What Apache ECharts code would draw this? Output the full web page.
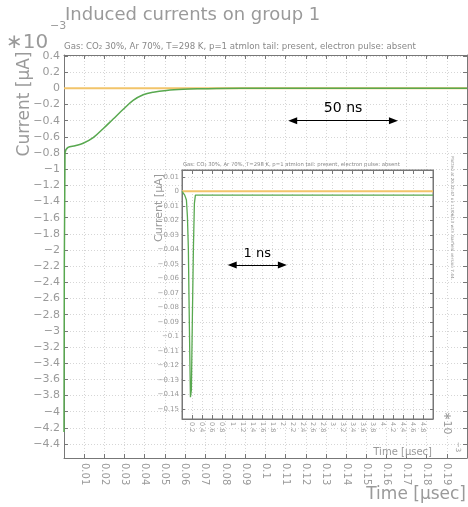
<!DOCTYPE html>
<html>
<head>
<meta charset="utf-8">
<script src="https://cdn.jsdelivr.net/npm/echarts@6/dist/echarts.min.js"></script>
<style>
  html, body { margin: 0; padding: 0; background: #fff; }
  #chart { width: 468px; height: 507px; }
</style>
</head>
<body>
<div id="chart"></div>
<script>
// Full time window: time in µs, current in units of 1e-3 µA
const mainTimes    = [0, 0.0005, 0.002, 0.0055, 0.0095, 0.0145, 0.0194, 0.0244, 0.0294, 0.0343, 0.0393, 0.0443, 0.0509, 0.0592, 0.0680, 0.0757, 0.100, 0.200];
const mainCurrents = [-4.25, -0.80, -0.73, -0.71, -0.68, -0.61, -0.50, -0.38, -0.26, -0.15, -0.080, -0.048, -0.026, -0.012, -0.005, -0.001, 0, 0];
const mainZeroTimes    = [0, 0.2];
const mainZeroCurrents = [0, 0];

// Zoom on the first 5 ns: time in 1e-3 µs, current in µA
const insetTimes    = [0, 0.054, 0.088, 0.108, 0.127, 0.140, 0.154, 0.168, 0.187, 0.207, 0.227, 0.247, 0.267, 5.0];
const insetCurrents = [0, -0.0026, -0.006, -0.0175, -0.040, -0.075, -0.110, -0.142, -0.137, -0.0865, -0.040, -0.0083, -0.0026, -0.0026];
const insetZeroTimes    = [0, 5];
const insetZeroCurrents = [0, 0];

// Tick values
const mainYTicks  = [0.4, 0.2, 0, -0.2, -0.4, -0.6, -0.8, -1, -1.2, -1.4, -1.6, -1.8, -2, -2.2, -2.4, -2.6, -2.8, -3, -3.2, -3.4, -3.6, -3.8, -4, -4.2, -4.4];
const insetYTicks = [0.01, 0, -0.01, -0.02, -0.03, -0.04, -0.05, -0.06, -0.07, -0.08, -0.09, -0.1, -0.11, -0.12, -0.13, -0.14, -0.15];

// Scale bars: [start, end, level] in each panel's data units
const mainScaleBar  = [0.1135, 0.1635, -0.40];
const insetScaleBar = [1, 2, -0.0508];

const FONT = 'DejaVu Sans';
const GREY = '#9a9a9a';
const FRAME = '#777';
const GREEN = '#58a84f';
const YELLOW = '#f2c46a';

const pairs = (xs, ys) => xs.map((x, i) => [x, ys[i]]);
const minus = s => String(s).replace('-', '\u2212');

function scaleBar(bar, text, size) {
  return {
    silent: true,
    symbol: ['triangle', 'triangle'],
    symbolSize: [7, 9],
    lineStyle: { color: '#000', width: 1.2, type: 'solid' },
    label: {
      show: true, formatter: text, position: 'insideMiddleTop', distance: 5,
      color: '#000', fontFamily: FONT, fontSize: size
    },
    emphasis: { disabled: true },
    data: [[{ coord: [bar[0], bar[2]] }, { coord: [bar[1], bar[2]] }]]
  };
}

function frameAxis(extra) {
  return Object.assign({
    type: 'value',
    axisLine: { show: true, onZero: false, lineStyle: { color: FRAME, width: 1 } },
    axisTick: { show: true, inside: true, length: 4, lineStyle: { color: FRAME } },
    axisLabel: { show: false },
    splitLine: { show: false }
  }, extra);
}

const dotted = { show: true, lineStyle: { color: '#d6d6d6', type: [1, 2], width: 1 } };

const chart = echarts.init(document.getElementById('chart'), null, { renderer: 'canvas' });

chart.setOption({
  animation: false,
  backgroundColor: '#fff',
  grid: [
    { left: 64, top: 55, right: 1, bottom: 49, show: false },
    { left: 182, top: 170, right: 35, bottom: 88, show: true, backgroundColor: '#fff', borderColor: FRAME, borderWidth: 1, z: 3 }
  ],
  xAxis: [
    frameAxis({
      gridIndex: 0, position: 'bottom', min: 0, max: 0.2, interval: 0.01,
      axisLabel: {
        show: true, rotate: -90, margin: 5, color: GREY, fontFamily: FONT, fontSize: 10,
        showMinLabel: false, showMaxLabel: false,
        formatter: v => String(Math.round(v * 100) / 100)
      },
      splitLine: dotted
    }),
    frameAxis({ gridIndex: 0, position: 'top', min: 0, max: 0.2, interval: 0.01 }),
    frameAxis({
      gridIndex: 1, position: 'bottom', min: 0, max: 5, interval: 0.2, z: 4,
      axisLabel: {
        show: true, rotate: -90, margin: 3, color: GREY, fontFamily: FONT, fontSize: 6.5,
        showMinLabel: false, showMaxLabel: false,
        formatter: v => String(Math.round(v * 10) / 10)
      },
      splitLine: dotted
    }),
    frameAxis({ gridIndex: 1, position: 'top', min: 0, max: 5, interval: 0.2, z: 4 })
  ],
  yAxis: [
    frameAxis({
      gridIndex: 0, position: 'left', min: -4.573, max: 0.412,
      axisTick: { show: true, inside: true, length: 4, lineStyle: { color: FRAME }, customValues: mainYTicks },
      axisLabel: {
        show: true, margin: 4, color: GREY, fontFamily: FONT, fontSize: 11, customValues: mainYTicks,
        formatter: v => minus(Math.round(v * 10) / 10)
      },
      splitLine: dotted
    }),
    frameAxis({
      gridIndex: 0, position: 'right', min: -4.573, max: 0.412,
      axisTick: { show: true, inside: true, length: 4, lineStyle: { color: FRAME }, customValues: mainYTicks }
    }),
    frameAxis({
      gridIndex: 1, position: 'left', min: -0.157, max: 0.0147, z: 4,
      axisTick: { show: true, inside: true, length: 3, lineStyle: { color: FRAME }, customValues: insetYTicks },
      axisLabel: {
        show: true, margin: 3, color: GREY, fontFamily: FONT, fontSize: 7, customValues: insetYTicks,
        formatter: v => minus(Math.round(v * 100) / 100)
      },
      splitLine: dotted
    }),
    frameAxis({
      gridIndex: 1, position: 'right', min: -0.157, max: 0.0147, z: 4,
      axisTick: { show: true, inside: true, length: 3, lineStyle: { color: FRAME }, customValues: insetYTicks }
    })
  ],
  series: [
    {
      type: 'line', xAxisIndex: 0, yAxisIndex: 0, showSymbol: false, silent: true,
      data: pairs(mainZeroTimes, mainZeroCurrents),
      lineStyle: { color: YELLOW, width: 2 }
    },
    {
      type: 'line', xAxisIndex: 0, yAxisIndex: 0, showSymbol: false, silent: true,
      smooth: 0.35,
      data: pairs(mainTimes, mainCurrents),
      lineStyle: { color: GREEN, width: 1.5 },
      markLine: scaleBar(mainScaleBar, '50 ns', 14)
    },
    {
      type: 'line', xAxisIndex: 2, yAxisIndex: 2, showSymbol: false, silent: true, z: 5,
      data: pairs(insetZeroTimes, insetZeroCurrents),
      lineStyle: { color: YELLOW, width: 2 }
    },
    {
      type: 'line', xAxisIndex: 2, yAxisIndex: 2, showSymbol: false, silent: true, z: 5,
      data: pairs(insetTimes, insetCurrents),
      lineStyle: { color: GREEN, width: 1.3 },
      markLine: scaleBar(insetScaleBar, '1 ns', 13)
    }
  ],
  graphic: [
    { type: 'text', x: 65, y: 6, z: 10, style: { text: 'Induced currents on group 1', fontFamily: FONT, fontSize: 18, fill: GREY } },
    { type: 'text', x: 6, y: 33, z: 10, style: { text: '\u221710', fontFamily: FONT, fontSize: 20, fill: GREY } },
    { type: 'text', x: 50, y: 21, z: 10, style: { text: '\u22123', fontFamily: FONT, fontSize: 11, fill: GREY } },
    { type: 'text', x: 64, y: 42, z: 10, style: { text: 'Gas: CO\u2082 30%, Ar 70%, T=298 K, p=1 atmIon tail: present, electron pulse: absent', fontFamily: FONT, fontSize: 8.6, fill: '#888' } },
    { type: 'text', x: 25, y: 104, rotation: Math.PI / 2, z: 10, style: { text: 'Current [\u03bcA]', fontFamily: FONT, fontSize: 17, fill: GREY, align: 'center', verticalAlign: 'middle' } },
    { type: 'text', x: 466, y: 495, z: 10, style: { text: 'Time [\u03bcsec]', fontFamily: FONT, fontSize: 17, fill: GREY, align: 'right', verticalAlign: 'middle' } },
    // inset annotations
    { type: 'text', x: 183, y: 162, z: 10, style: { text: 'Gas: CO\u2082 30%, Ar 70%, T=298 K, p=1 atmIon tail: present, electron pulse: absent', fontFamily: FONT, fontSize: 5.3, fill: '#888' } },
    { type: 'text', x: 159, y: 208, rotation: Math.PI / 2, z: 10, style: { text: 'Current [\u03bcA]', fontFamily: FONT, fontSize: 11, fill: GREY, align: 'center', verticalAlign: 'middle' } },
    { type: 'text', x: 432, y: 452, z: 10, style: { text: 'Time [\u03bcsec]', fontFamily: FONT, fontSize: 10, fill: GREY, align: 'right', verticalAlign: 'middle' } },
    { type: 'text', x: 447, y: 423, rotation: -Math.PI / 2, z: 10, style: { text: '\u221710', fontFamily: FONT, fontSize: 11, fill: GREY, align: 'center', verticalAlign: 'middle' } },
    { type: 'text', x: 458, y: 447, rotation: -Math.PI / 2, z: 10, style: { text: '\u22123', fontFamily: FONT, fontSize: 7, fill: GREY, align: 'center', verticalAlign: 'middle' } },
    { type: 'text', x: 452, y: 218, rotation: -Math.PI / 2, z: 10, style: { text: 'Plotted at 20:32:47 on 11/06/13 with Garfield version 7.44.', fontFamily: FONT, fontSize: 4.2, fill: '#888', align: 'center', verticalAlign: 'middle' } }
  ]
});
</script>
</body>
</html>
